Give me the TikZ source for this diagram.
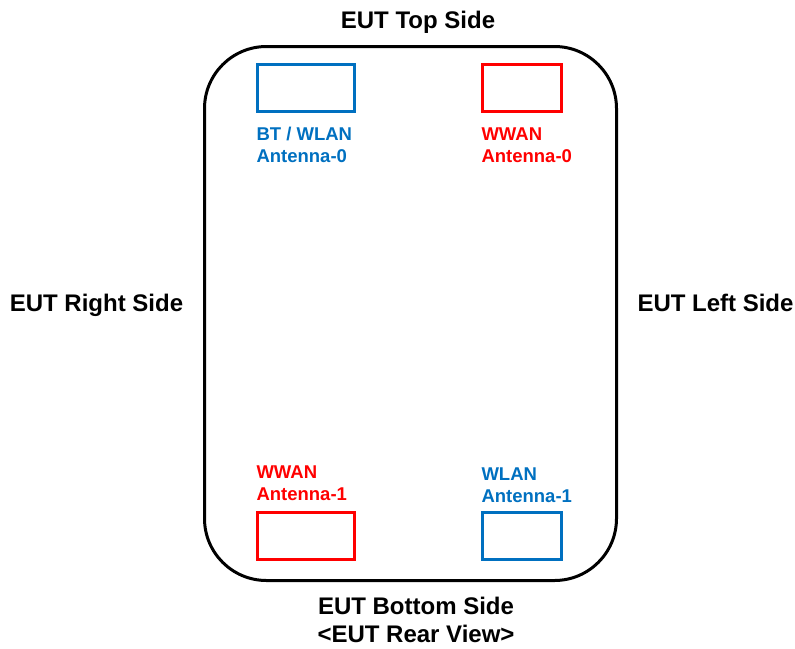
\documentclass[tikz,border=0pt]{standalone}
\usepackage{fontspec}
\setmainfont{Liberation Sans}
\usepackage{xcolor}
\usepackage{tikz}
\usetikzlibrary{positioning}

\definecolor{antblue}{HTML}{0070C0}
\definecolor{antred}{HTML}{FF0000}

\begin{document}
\begin{tikzpicture}[
  x=1pt,y=-1pt,
  every node/.style={inner sep=0pt,outer sep=0pt},
  side/.style={font=\fontsize{24}{28}\selectfont\bfseries,align=center},
  antbox/.style={rectangle,draw,line width=3pt,minimum height=47pt},
  antlabel/.style={font=\fontsize{18.5}{22}\selectfont\bfseries,align=left}]
  \useasboundingbox (0,0) rectangle (795,648);

  % EUT body
  \node[draw,line width=3pt,rounded corners=62pt,minimum width=412pt,minimum height=534pt] (eut) at (410.5,313.5) {};

  % antennas
  \node[antbox,draw=antblue,minimum width=97pt] (bt0) at (306,88) {};
  \node[antbox,draw=antred,minimum width=79pt] (wwan0) at (522,88) {};
  \node[antbox,draw=antred,minimum width=97pt] (wwan1) at (306,535.5) {};
  \node[antbox,draw=antblue,minimum width=79pt] (wlan1) at (522,535.5) {};

  \node[antlabel,text=antblue,below=16pt of bt0.south west,anchor=north west,xshift=-1pt] (bt0txt) {BT / WLAN\\Antenna-0};
  \node[antlabel,text=antred,below=16pt of wwan0.south west,anchor=north west,xshift=-1pt] (wwan0txt) {WWAN\\Antenna-0};
  \node[antlabel,text=antred,above=11pt of wwan1.north west,anchor=south west,xshift=-1pt] (wwan1txt) {WWAN\\Antenna-1};
  \node[antlabel,text=antblue,above=9pt of wlan1.north west,anchor=south west,xshift=-1pt] (wlan1txt) {WLAN\\Antenna-1};

  % sides
  \node[side,anchor=base] (top) at (418,28) {EUT Top Side};
  \node[side,anchor=base] (right) at (96.5,311) {EUT Right Side};
  \node[side,anchor=base] (left) at (715.5,311) {EUT Left Side};
  \node[side,anchor=north] (bottom) at (416,597.5) {EUT Bottom Side\\\textless EUT Rear View\textgreater};
\end{tikzpicture}
\end{document}
